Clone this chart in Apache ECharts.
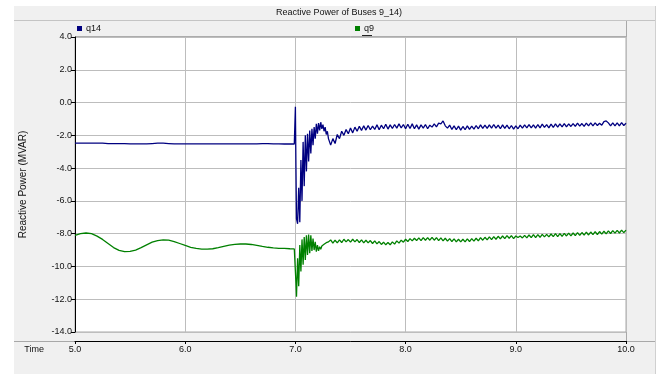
<!DOCTYPE html>
<html>
<head>
<meta charset="utf-8">
<script src="https://cdn.jsdelivr.net/npm/echarts@6/dist/echarts.min.js"></script>
<style>
html,body{margin:0;padding:0;background:#ffffff;}
#chart{width:661px;height:375px;}
</style>
</head>
<body>
<div id="chart"></div>
<script>
// ---------- data ----------
var chartTitle = "Reactive Power of Buses 9_14)";
var seriesNames = ["q14", "q9"];
var xTicks = [5.0, 6.0, 7.0, 8.0, 9.0, 10.0];
var yTicks = [-14.0, -12.0, -10.0, -8.0, -6.0, -4.0, -2.0, 0.0, 2.0, 4.0];

// time samples (s)
var time = [
  5.00,5.05,5.10,5.15,5.20,5.25,5.30,5.35,5.40,5.45,
  5.50,5.55,5.60,5.65,5.70,5.75,5.80,5.85,5.90,5.95,
  6.00,6.05,6.10,6.15,6.20,6.25,6.30,6.35,6.40,6.45,
  6.50,6.55,6.60,6.65,6.70,6.75,6.80,6.85,6.90,6.95,
  6.99,
  7.00,7.005,7.01,7.02,7.03,7.04,7.05,7.06,7.07,7.08,
  7.09,7.10,7.11,7.12,7.13,7.14,7.15,7.16,7.17,7.18,
  7.19,7.20,7.21,7.22,7.23,7.24,7.25,7.26,7.27,7.28,
  7.29,7.30,
  7.32,7.34,7.36,7.38,7.40,7.42,7.44,7.46,7.48,7.50,
  7.52,7.54,7.56,7.58,7.60,7.62,7.64,7.66,7.68,7.70,
  7.72,7.74,7.76,7.78,7.80,7.82,7.84,7.86,7.88,7.90,
  7.92,7.94,7.96,7.98,8.00,8.02,8.04,8.06,8.08,8.10,
  8.12,8.14,8.16,8.18,8.20,8.22,8.24,8.26,8.28,8.30,
  8.32,8.34,8.36,8.38,8.40,8.42,8.44,8.46,8.48,8.50,
  8.52,8.54,8.56,8.58,8.60,8.62,8.64,8.66,8.68,8.70,
  8.72,8.74,8.76,8.78,8.80,8.82,8.84,8.86,8.88,8.90,
  8.92,8.94,8.96,8.98,9.00,9.02,9.04,9.06,9.08,9.10,
  9.12,9.14,9.16,9.18,9.20,9.22,9.24,9.26,9.28,9.30,
  9.32,9.34,9.36,9.38,9.40,9.42,9.44,9.46,9.48,9.50,
  9.52,9.54,9.56,9.58,9.60,9.62,9.64,9.66,9.68,9.70,
  9.72,9.74,9.76,9.78,9.80,9.82,9.84,9.86,9.88,9.90,
  9.92,9.94,9.96,9.98,10.00
];

// q14 (MVAR)
var q14 = [
  -2.47,-2.47,-2.47,-2.47,-2.47,-2.47,-2.50,-2.50,-2.50,-2.50,
  -2.52,-2.52,-2.52,-2.52,-2.50,-2.48,-2.48,-2.50,-2.52,-2.52,
  -2.52,-2.52,-2.52,-2.52,-2.52,-2.52,-2.52,-2.52,-2.52,-2.52,
  -2.52,-2.52,-2.52,-2.52,-2.50,-2.50,-2.52,-2.52,-2.53,-2.53,
  -2.53,
  -0.25,-4.0,-7.1,-7.4,-5.2,-7.3,-3.5,-6.0,-2.4,-5.1,
  -2.0,-4.2,-1.9,-3.6,-1.7,-3.1,-1.6,-2.6,-1.5,-2.2,
  -1.3,-1.9,-1.25,-1.7,-1.2,-1.6,-1.35,-1.75,-1.5,-1.95,
  -1.75,-2.2,
  -2.6,-2.2,-2.5,-1.95,-2.2,-1.75,-2.0,-1.65,-1.9,-1.55,
  -1.85,-1.5,-1.75,-1.45,-1.7,-1.42,-1.68,-1.4,-1.66,-1.44,
  -1.64,-1.36,-1.66,-1.38,-1.6,-1.32,-1.62,-1.36,-1.58,-1.34,
  -1.56,-1.3,-1.55,-1.34,-1.6,-1.32,-1.58,-1.3,-1.6,-1.36,
  -1.62,-1.36,-1.56,-1.34,-1.6,-1.38,-1.5,-1.3,-1.48,-1.26,
  -1.3,-1.12,-1.42,-1.56,-1.38,-1.64,-1.42,-1.66,-1.44,-1.68,
  -1.46,-1.66,-1.42,-1.64,-1.44,-1.62,-1.4,-1.6,-1.36,-1.58,
  -1.38,-1.58,-1.36,-1.56,-1.34,-1.56,-1.38,-1.6,-1.36,-1.58,
  -1.38,-1.6,-1.4,-1.62,-1.42,-1.6,-1.38,-1.56,-1.36,-1.54,
  -1.34,-1.54,-1.36,-1.56,-1.34,-1.54,-1.32,-1.52,-1.34,-1.54,
  -1.32,-1.52,-1.3,-1.5,-1.3,-1.48,-1.28,-1.48,-1.3,-1.46,
  -1.28,-1.46,-1.26,-1.44,-1.28,-1.46,-1.26,-1.42,-1.24,-1.42,
  -1.24,-1.4,-1.26,-1.38,-1.16,-1.12,-1.24,-1.42,-1.24,-1.42,
  -1.24,-1.42,-1.22,-1.4,-1.26
];

// q9 (MVAR)
var q9 = [
  -8.10,-8.00,-7.96,-8.00,-8.15,-8.35,-8.60,-8.85,-9.02,-9.10,
  -9.08,-9.00,-8.85,-8.68,-8.52,-8.42,-8.38,-8.40,-8.48,-8.60,
  -8.72,-8.83,-8.90,-8.94,-8.94,-8.92,-8.85,-8.77,-8.70,-8.65,
  -8.63,-8.63,-8.66,-8.72,-8.78,-8.83,-8.87,-8.90,-8.90,-8.92,
  -8.93,
  -9.0,-11.0,-11.85,-9.5,-11.2,-8.7,-10.3,-8.35,-9.9,-8.2,
  -9.6,-8.1,-9.3,-8.05,-9.2,-8.1,-9.05,-8.3,-9.0,-8.5,
  -9.1,-8.7,-9.05,-8.8,-8.95,-8.75,-8.8,-8.65,-8.7,-8.55,
  -8.6,-8.5,
  -8.38,-8.58,-8.4,-8.56,-8.38,-8.54,-8.34,-8.5,-8.36,-8.52,
  -8.34,-8.5,-8.36,-8.54,-8.38,-8.56,-8.4,-8.56,-8.42,-8.6,
  -8.44,-8.62,-8.48,-8.66,-8.52,-8.68,-8.54,-8.68,-8.5,-8.64,
  -8.44,-8.58,-8.4,-8.52,-8.34,-8.48,-8.3,-8.44,-8.28,-8.42,
  -8.26,-8.42,-8.24,-8.4,-8.24,-8.4,-8.22,-8.4,-8.24,-8.42,
  -8.26,-8.44,-8.28,-8.46,-8.3,-8.48,-8.32,-8.5,-8.34,-8.5,
  -8.34,-8.5,-8.32,-8.48,-8.3,-8.46,-8.28,-8.44,-8.24,-8.4,
  -8.22,-8.38,-8.2,-8.36,-8.18,-8.34,-8.16,-8.32,-8.14,-8.3,
  -8.12,-8.28,-8.12,-8.3,-8.14,-8.24,-8.14,-8.26,-8.1,-8.26,
  -8.08,-8.24,-8.06,-8.24,-8.06,-8.22,-8.04,-8.2,-8.04,-8.2,
  -8.02,-8.18,-8.0,-8.18,-8.0,-8.16,-7.98,-8.14,-7.97,-8.13,
  -7.96,-8.12,-7.94,-8.11,-7.93,-8.09,-7.91,-8.08,-7.9,-8.06,
  -7.88,-8.05,-7.87,-8.03,-7.85,-8.01,-7.83,-7.99,-7.81,-7.97,
  -7.8,-7.96,-7.78,-7.94,-7.78
];

if (time.length !== q14.length || time.length !== q9.length) {
  console.error("length mismatch", time.length, q14.length, q9.length);
}

// ---------- chart ----------
var FONT = "'Liberation Sans', Arial, sans-serif";
var chart = echarts.init(document.getElementById('chart'), null, {renderer: 'canvas'});

function pairs(vals) {
  var out = [];
  for (var i = 0; i < time.length; i++) out.push([time[i], vals[i]]);
  return out;
}

var option = {
  animation: false,
  backgroundColor: '#ffffff',
  title: {
    text: chartTitle,
    left: 337, top: 6, textAlign: 'center', padding: 2,
    textStyle: {fontFamily: FONT, fontSize: 9, fontWeight: 'normal', color: '#111'}
  },
  graphic: [
    {type: 'rect', z: -10, shape: {x: 14, y: 6, width: 642, height: 368},
     style: {fill: '#f0f0f0', stroke: null}},
    {type: 'line', z: -9, shape: {x1: 14, y1: 20.5, x2: 656, y2: 20.5},
     style: {stroke: '#c4c4c4', lineWidth: 1}},
    {type: 'line', z: -9, shape: {x1: 75, y1: 36.5, x2: 626, y2: 36.5},
     style: {stroke: '#b0b0b0', lineWidth: 1}},
    {type: 'line', z: -9, shape: {x1: 626.5, y1: 21, x2: 626.5, y2: 341},
     style: {stroke: '#a8a8a8', lineWidth: 1}},
    {type: 'line', z: -9, shape: {x1: 14, y1: 341.5, x2: 656, y2: 341.5},
     style: {stroke: '#a8a8a8', lineWidth: 1}},
    {type: 'line', z: -9, shape: {x1: 655.5, y1: 6, x2: 655.5, y2: 374},
     style: {stroke: '#d0d0d0', lineWidth: 1}},
    {type: 'line', z: 10, shape: {x1: 362, y1: 35.5, x2: 372, y2: 35.5},
     style: {stroke: '#222', lineWidth: 1}}
  ],
  legend: [
    {data: [seriesNames[0]], left: 77, top: 24, padding: 0,
     icon: 'rect', itemWidth: 5, itemHeight: 5, itemGap: 4,
     textStyle: {fontFamily: FONT, fontSize: 9, color: '#111', padding: [0, 0, 0, -1]}},
    {data: [seriesNames[1]], left: 355, top: 24, padding: 0,
     icon: 'rect', itemWidth: 5, itemHeight: 5, itemGap: 4,
     textStyle: {fontFamily: FONT, fontSize: 9, color: '#111', padding: [0, 0, 0, -1]}}
  ],
  grid: {
    left: 75, top: 37, right: 35, bottom: 43,
    show: true, backgroundColor: '#ffffff', borderColor: '#a8a8a8', borderWidth: 1,
    containLabel: false
  },
  xAxis: {
    type: 'value', min: xTicks[0], max: xTicks[xTicks.length - 1], interval: 1,
    offset: 9,
    name: 'Time', nameLocation: 'start', nameGap: 31,
    nameTextStyle: {fontFamily: FONT, fontSize: 9, color: '#111', verticalAlign: 'top', padding: [4, 0, 0, 0]},
    axisLine: {show: true, onZero: false, lineStyle: {color: '#000', width: 1}},
    axisTick: {show: true, length: 3, lineStyle: {color: '#000'}},
    axisLabel: {fontFamily: FONT, fontSize: 9, color: '#111', margin: 4,
      formatter: function (v) { return v.toFixed(1); }},
    splitLine: {show: true, lineStyle: {color: '#bdbdbd', width: 1}}
  },
  yAxis: {
    type: 'value', min: yTicks[0], max: yTicks[yTicks.length - 1], interval: 2,
    name: 'Reactive Power (MVAR)', nameLocation: 'middle', nameGap: 47, nameRotate: 90,
    nameTextStyle: {fontFamily: FONT, fontSize: 10, color: '#111'},
    axisLine: {show: true, onZero: false, lineStyle: {color: '#000', width: 1}},
    axisTick: {show: true, length: 4, lineStyle: {color: '#000'}},
    axisLabel: {fontFamily: FONT, fontSize: 9, color: '#111', margin: 3,
      formatter: function (v) { return v.toFixed(1); }},
    splitLine: {show: true, lineStyle: {color: '#bdbdbd', width: 1}}
  },
  series: [
    {name: seriesNames[0], type: 'line', data: pairs(q14), showSymbol: false,
     symbol: 'none', color: '#000080', lineStyle: {color: '#000080', width: 1.3}, z: 3},
    {name: seriesNames[1], type: 'line', data: pairs(q9), showSymbol: false,
     symbol: 'none', color: '#008000', lineStyle: {color: '#008000', width: 1.3}, z: 2}
  ]
};
chart.setOption(option);
</script>
</body>
</html>
